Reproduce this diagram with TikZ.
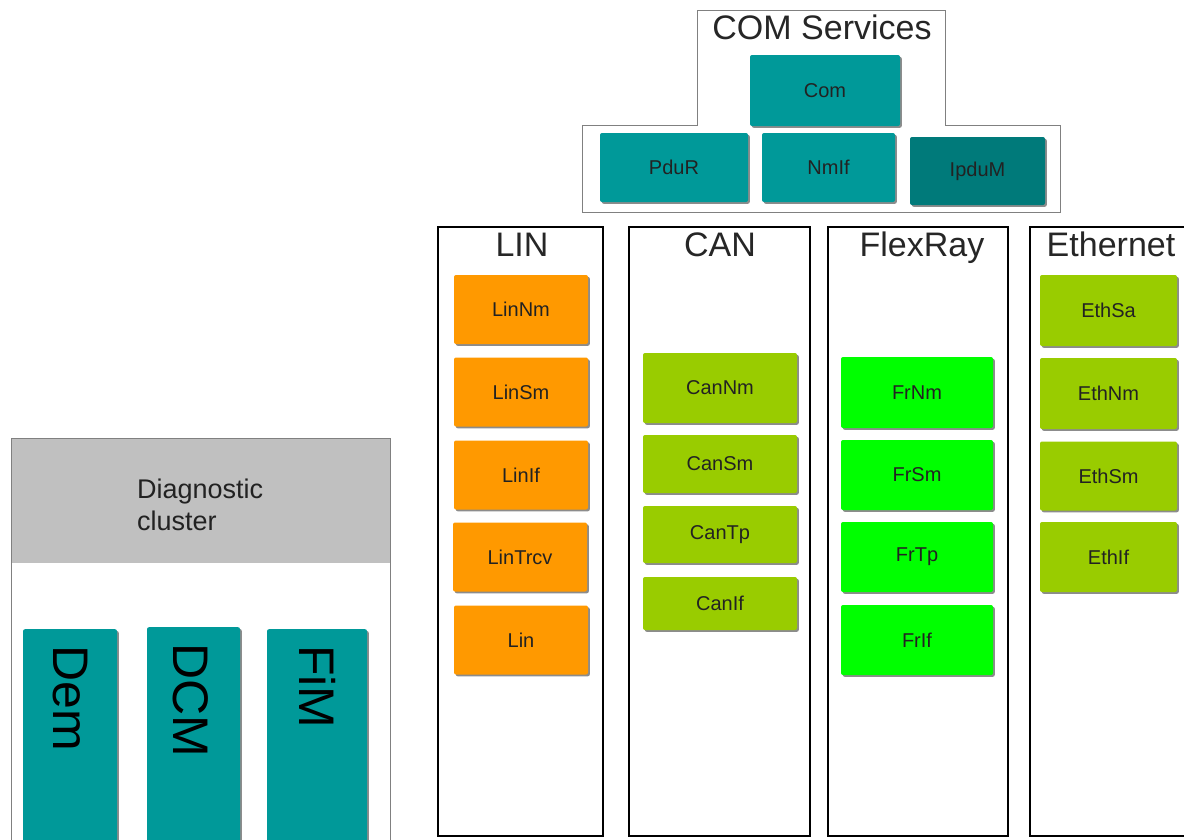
\documentclass[tikz,border=0pt]{standalone}
\usepackage{fontspec}
\setmainfont{Liberation Sans}
\usetikzlibrary{shadows}
\definecolor{teal1}{HTML}{009999}
\definecolor{teal2}{HTML}{007A7A}
\definecolor{orng}{HTML}{FF9900}
\definecolor{lime1}{HTML}{99CC00}
\definecolor{grn}{HTML}{00FF00}
\definecolor{hdrgray}{HTML}{C0C0C0}
\definecolor{txt}{HTML}{222222}
\tikzset{
  mod/.style={rounded corners=2pt, inner sep=0pt, text=txt,
    font=\fontsize{20}{24}\selectfont,
    general shadow={shadow xshift=1.8pt, shadow yshift=-1.8pt, fill=black!45, rounded corners=2pt}},
  colbox/.style={draw=black, line width=2.4pt, inner sep=0pt},
  coltitle/.style={anchor=base, inner sep=0pt, text=black!85, font=\fontsize{34}{40}\selectfont},
  vtext/.style={rotate=-90, anchor=west, inner sep=0pt, text=black, font=\fontsize{50}{56}\selectfont},
}
\begin{document}
\begin{tikzpicture}[x=1pt,y=-1pt]
\useasboundingbox (0,0) rectangle (1184,839);
\clip (0,0) rectangle (1184,839);
\fill[white] (0,0) rectangle (1184,839);

% COM Services
\draw[gray, line width=1pt] (697,10) -- (945,10) -- (945,125) -- (1060,125) -- (1060,212) -- (582,212) -- (582,125) -- (697,125) -- cycle;
\node[coltitle] (comt) at (822,39) {COM Services};
\node[mod, fill=teal1, minimum width=150, minimum height=71] (com) at (825,90.5) {Com};
\node[mod, fill=teal1, minimum width=148, minimum height=69] (pdur) at (674,167.5) {PduR};
\node[mod, fill=teal1, minimum width=133, minimum height=69] (nmif) at (828.5,167.5) {NmIf};
\node[mod, fill=teal2, minimum width=135, minimum height=68] (ipdum) at (977.5,171) {IpduM};

% Columns
\node[colbox, minimum width=165, minimum height=609] (lin) at (520.5,531.5) {};
\node[colbox, minimum width=181, minimum height=609] (can) at (719.5,531.5) {};
\node[colbox, minimum width=180, minimum height=609] (fr) at (918,531.5) {};
\node[colbox, minimum width=180, minimum height=609] (eth) at (1120,531.5) {};
\node[coltitle] (lint) at (522,256) {LIN};
\node[coltitle] (cant) at (720,256) {CAN};
\node[coltitle] (frt) at (922,256) {FlexRay};
\node[coltitle] (etht) at (1111,256) {Ethernet};

% LIN
\node[mod, fill=orng, minimum width=134, minimum height=69] (linnm) at (521,309.5) {LinNm};
\node[mod, fill=orng, minimum width=134, minimum height=69] (linsm) at (521,392) {LinSm};
\node[mod, fill=orng, minimum width=134, minimum height=69] (linif) at (521,475) {LinIf};
\node[mod, fill=orng, minimum width=134, minimum height=69] (lintrcv) at (520,557) {LinTrcv};
\node[mod, fill=orng, minimum width=134, minimum height=69] (lindrv) at (521,640) {Lin};

% CAN
\node[mod, fill=lime1, minimum width=154, minimum height=70] (cannm) at (720,388) {CanNm};
\node[mod, fill=lime1, minimum width=154, minimum height=58] (cansm) at (720,464) {CanSm};
\node[mod, fill=lime1, minimum width=154, minimum height=57] (cantp) at (720,534.5) {CanTp};
\node[mod, fill=lime1, minimum width=154, minimum height=53] (canif) at (720,603.5) {CanIf};

% FlexRay
\node[mod, fill=grn, minimum width=152, minimum height=71] (frnm) at (917,392.5) {FrNm};
\node[mod, fill=grn, minimum width=152, minimum height=70] (frsm) at (917,475) {FrSm};
\node[mod, fill=grn, minimum width=152, minimum height=70] (frtp) at (917,557) {FrTp};
\node[mod, fill=grn, minimum width=152, minimum height=70] (frif) at (917,640) {FrIf};

% Ethernet
\node[mod, fill=lime1, minimum width=137, minimum height=71] (ethsa) at (1108.5,310.5) {EthSa};
\node[mod, fill=lime1, minimum width=137, minimum height=71] (ethnm) at (1108.5,393.5) {EthNm};
\node[mod, fill=lime1, minimum width=137, minimum height=69] (ethsm) at (1108.5,476) {EthSm};
\node[mod, fill=lime1, minimum width=137, minimum height=70] (ethif) at (1108.5,557) {EthIf};

% Diagnostic cluster
\fill[hdrgray] (11,438) rectangle (390,563);
\draw[gray, line width=1pt] (11,850) -- (11,438) -- (390,438) -- (390,850);
\node[anchor=north west, inner sep=0pt, align=left, text=txt, font=\fontsize{27}{32}\selectfont] (diagt) at (137,478.5) {Diagnostic\\cluster};
\node[mod, fill=teal1, minimum width=94, minimum height=230, anchor=north] (dem) at (70,629) {};
\node[mod, fill=teal1, minimum width=93, minimum height=230, anchor=north] (dcm) at (193.5,627) {};
\node[mod, fill=teal1, minimum width=100, minimum height=230, anchor=north] (fim) at (317,629) {};
\node[vtext] (demt) at (70,645) {Dem};
\node[vtext] (dcmt) at (191,643) {DCM};
\node[vtext] (fimt) at (318,645) {FiM};
\end{tikzpicture}
\end{document}
